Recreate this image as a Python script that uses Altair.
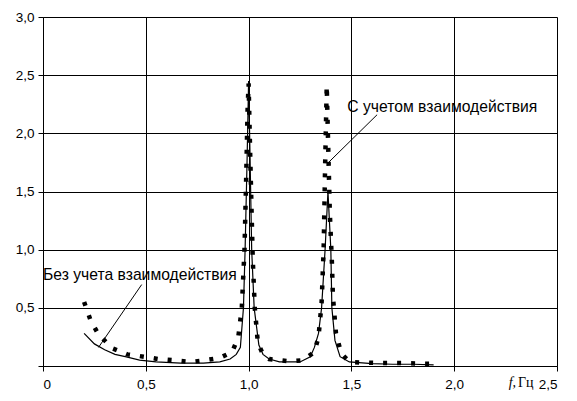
import altair as alt
import pandas as pd

# Без учета взаимодействия (solid)
freq_no = [0.2, 0.25, 0.3, 0.35, 0.4, 0.47, 0.55, 0.67, 0.78, 0.86, 0.91, 0.94, 0.96, 0.975,
           0.983, 0.993, 1.0, 1.007, 1.015, 1.027, 1.05, 1.07, 1.1, 1.15, 1.25, 1.3, 1.32,
           1.34, 1.355, 1.372, 1.386, 1.40, 1.405, 1.42, 1.445, 1.49, 1.6, 1.7, 1.8, 1.9]
amp_no = [0.28, 0.19, 0.14, 0.1, 0.08, 0.05, 0.035, 0.025, 0.025, 0.035, 0.06, 0.1, 0.16, 0.5,
          1.0, 1.8, 2.45, 1.8, 1.0, 0.5, 0.18, 0.1, 0.06, 0.035, 0.035, 0.08, 0.16,
          0.28, 0.5, 1.0, 1.5, 1.0, 0.5, 0.22, 0.08, 0.035, 0.02, 0.015, 0.015, 0.01]

# С учетом взаимодействия (dotted)
freq_w = [0.2, 0.23, 0.27, 0.34, 0.41, 0.49, 0.56, 0.63, 0.72, 0.79, 0.86, 0.92, 0.95, 0.967,
          0.98, 0.988, 0.995, 1.0, 1.008, 1.02, 1.03, 1.045, 1.07, 1.1, 1.2, 1.265, 1.32, 1.34,
          1.355, 1.365, 1.372, 1.38, 1.395, 1.405, 1.41, 1.425, 1.45, 1.49, 1.55, 1.65, 1.75,
          1.85, 1.9]
amp_w = [0.55, 0.4, 0.27, 0.15, 0.1, 0.08, 0.06, 0.05, 0.035, 0.05, 0.07, 0.12, 0.25, 0.5,
         1.0, 1.6, 2.2, 2.43, 1.8, 0.93, 0.5, 0.2, 0.1, 0.06, 0.04, 0.05, 0.12, 0.25,
         0.54, 1.0, 1.7, 2.41, 1.32, 0.9, 0.6, 0.28, 0.11, 0.035, 0.03, 0.025, 0.025,
         0.02, 0.02]

ann_text = ["С учетом взаимодействия", "Без учета взаимодействия"]
ann_x = [1.48, 0.0]
ann_y = [2.23, 0.78]
lead_x1 = [1.625, 0.48]
lead_y1 = [2.16, 0.70]
lead_x2 = [1.386, 0.27]
lead_y2 = [1.745, 0.16]

unit_text = ["f,", "Гц"]
unit_x = [2.265, 2.31]
unit_y = [-0.15, -0.15]

x_ticks = [0, 0.5, 1.0, 1.5, 2.0, 2.5]
y_ticks = [0, 0.5, 1.0, 1.5, 2.0, 2.5, 3.0]

df_no = pd.DataFrame({"f": freq_no, "a": amp_no})
df_w = pd.DataFrame({"f": freq_w, "a": amp_w})
df_ann = pd.DataFrame({"t": ann_text, "x": ann_x, "y": ann_y})
df_lead = pd.DataFrame({"x": lead_x1, "y": lead_y1, "x2": lead_x2, "y2": lead_y2})
df_unit_it = pd.DataFrame({"t": unit_text[:1], "x": unit_x[:1], "y": unit_y[:1]})
df_unit_n = pd.DataFrame({"t": unit_text[1:], "x": unit_x[1:], "y": unit_y[1:]})

xs = alt.Scale(domain=[0, 2.5], nice=False)
ys = alt.Scale(domain=[0, 3.0], nice=False)

x_axis = alt.Axis(values=x_ticks, grid=True, gridColor="black", gridWidth=1, gridOpacity=1,
                  domainColor="black", tickColor="black", tickSize=5, labelFont="Liberation Sans",
                  labelFontSize=13.5, labelColor="black", labelPadding=6, title=None,
                  labelExpr="datum.value == 0 ? '0' : replace(format(datum.value, '.1f'), '.', ',')")
y_axis = alt.Axis(values=y_ticks, grid=True, gridColor="black", gridWidth=1, gridOpacity=1,
                  domainColor="black", tickColor="black", tickSize=5, labelFont="Liberation Sans",
                  labelFontSize=13.5, labelColor="black", labelPadding=4, title=None,
                  labelExpr="datum.value == 0 ? '' : replace(format(datum.value, '.1f'), '.', ',')")

solid = alt.Chart(df_no).mark_line(color="black", strokeWidth=1.2).encode(
    x=alt.X("f:Q", scale=xs, axis=x_axis),
    y=alt.Y("a:Q", scale=ys, axis=y_axis),
)
dotted = alt.Chart(df_w).mark_line(color="black", strokeWidth=4.5, strokeDash=[4, 10],
                                   strokeCap="butt").encode(
    x=alt.X("f:Q", scale=xs),
    y=alt.Y("a:Q", scale=ys),
)
leads = alt.Chart(df_lead).mark_rule(color="black", strokeWidth=1).encode(
    x=alt.X("x:Q", scale=xs), y=alt.Y("y:Q", scale=ys), x2="x2:Q", y2="y2:Q"
)
texts = alt.Chart(df_ann).mark_text(align="left", baseline="middle", font="Liberation Sans",
                                    fontSize=15.7, color="black").encode(
    x=alt.X("x:Q", scale=xs), y=alt.Y("y:Q", scale=ys), text="t:N"
)
unit_it = alt.Chart(df_unit_it).mark_text(
    align="left", baseline="middle", font="Liberation Serif", fontSize=14,
    fontStyle="italic", color="black").encode(
    x=alt.X("x:Q", scale=xs), y=alt.Y("y:Q", scale=ys), text="t:N"
)
unit_n = alt.Chart(df_unit_n).mark_text(
    align="left", baseline="middle", font="Liberation Serif", fontSize=14,
    color="black").encode(
    x=alt.X("x:Q", scale=xs), y=alt.Y("y:Q", scale=ys), text="t:N"
)

chart = alt.layer(solid, dotted, leads, texts, unit_it, unit_n).properties(
    width=514, height=349,
    autosize=alt.AutoSizeParams(type="none"),
    padding={"left": 35, "top": 9, "right": 12, "bottom": 27},
).configure_view(stroke=None).configure(background="white")

chart.save("out.html", embed_options={"renderer": "svg", "actions": False})
